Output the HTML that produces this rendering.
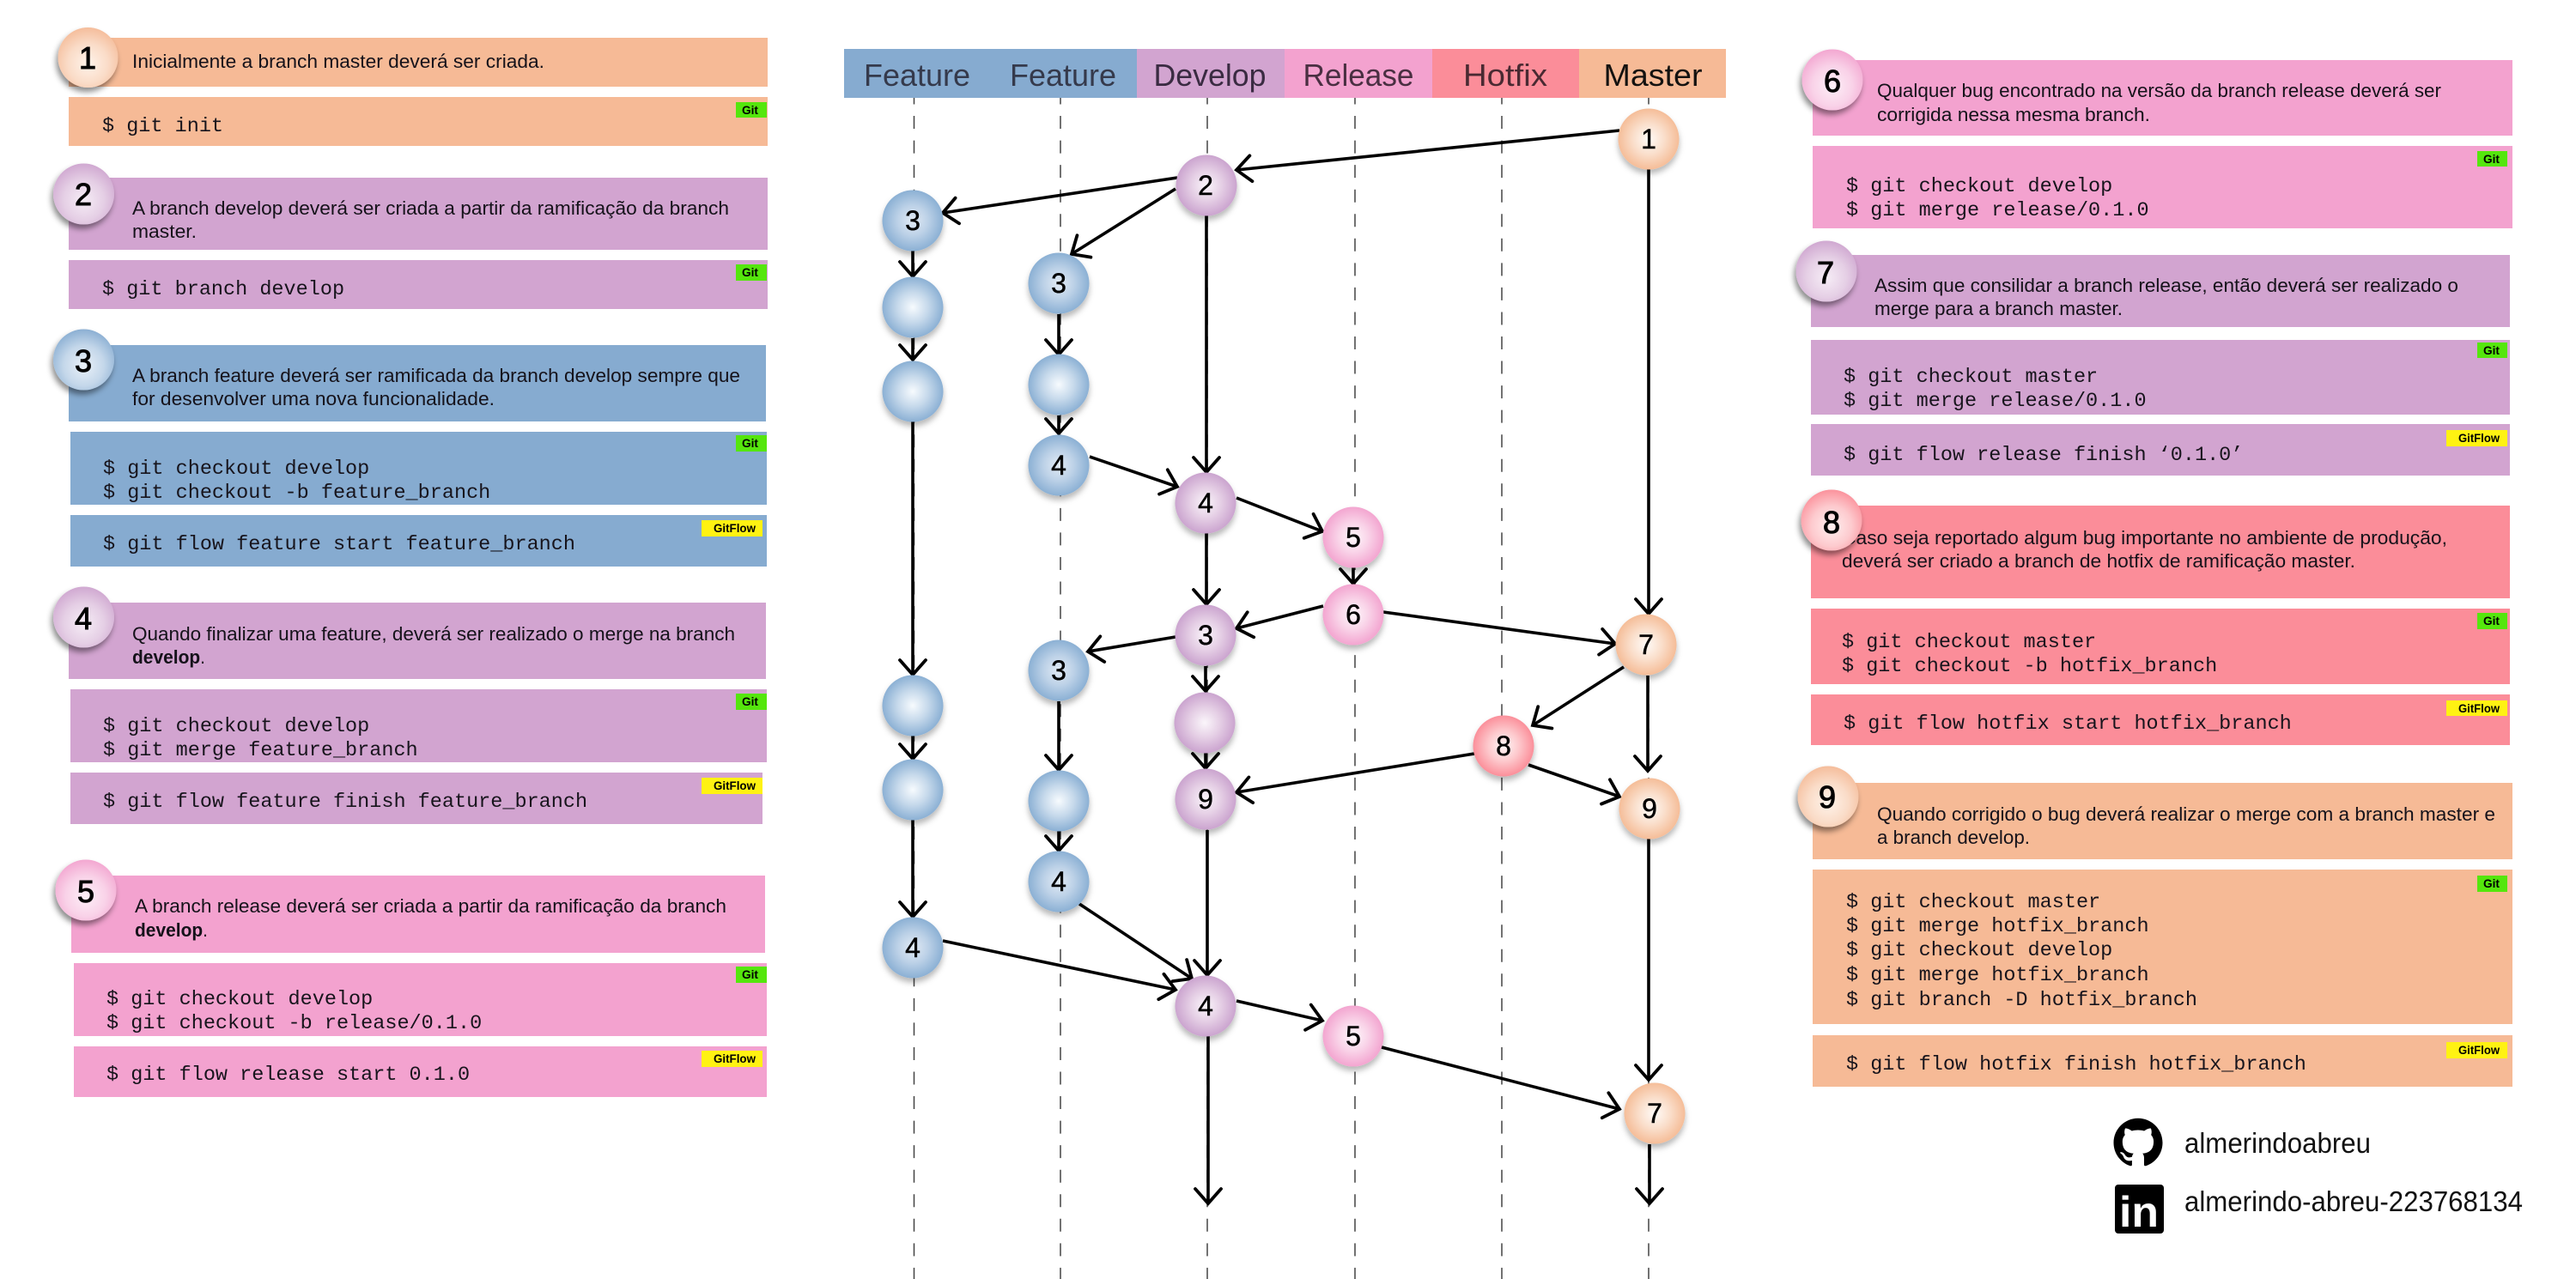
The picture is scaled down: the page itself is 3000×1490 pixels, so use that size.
<!DOCTYPE html>
<html lang="pt">
<head>
<meta charset="utf-8">
<title>Git Flow</title>
<style>
html,body{margin:0;padding:0;background:#fff;width:3000px;height:1490px;overflow:hidden}
svg{display:block}
.t{font:22px "Liberation Sans",sans-serif;fill:#15121a}
.c{font:23.5px "Liberation Mono",monospace;fill:#17141c}
.b{font:14px "Liberation Sans",sans-serif;fill:#000;font-weight:bold}
.h{font:36px "Liberation Sans",sans-serif;text-anchor:middle}
.n{font:32px "Liberation Sans",sans-serif;fill:#000;stroke:#000;stroke-width:.5;text-anchor:middle}
.s{font:36px "Liberation Sans",sans-serif;fill:#000;stroke:#000;stroke-width:1;text-anchor:middle}
.l,.k{stroke:#000;stroke-width:3.6;fill:none;marker-end:url(#a)}
.d{stroke:#444;stroke-width:1.5;stroke-dasharray:15 13.55;fill:none}
.so{font:33px "Liberation Sans",sans-serif;fill:#111}
.cir{filter:url(#sh)}
.stp{filter:url(#sh2)}
.pe{fill:#f6ba96}.pu{fill:#d2a4d0}.bl{fill:#86abd0}.pk{fill:#f3a2cf}.re{fill:#fb8d99}
.gi{fill:#55e60d}.gf{fill:#fff212}
</style>
</head>
<body>
<svg xmlns="http://www.w3.org/2000/svg" width="3000" height="1490" viewBox="0 0 3000 1490">
<defs>
<marker id="a" markerUnits="userSpaceOnUse" markerWidth="40" markerHeight="40" refX="22" refY="20" orient="auto" overflow="visible">
<path d="M5,5 L22,20 L5,35" fill="none" stroke="#000" stroke-width="3.8" stroke-linecap="round" stroke-linejoin="miter"/>
</marker>
<filter id="sh" x="-30%" y="-30%" width="160%" height="170%"><feDropShadow dx="0" dy="5" stdDeviation="3.5" flood-color="#000" flood-opacity=".28"/></filter>
<filter id="sh2" x="-30%" y="-30%" width="160%" height="170%"><feDropShadow dx="-2" dy="5" stdDeviation="3.5" flood-color="#000" flood-opacity=".45"/></filter>
<radialGradient id="gbl"><stop offset="0" stop-color="#f7fbfe"/><stop offset=".5" stop-color="#c6d9eb"/><stop offset="1" stop-color="#8bb0d4"/></radialGradient>
<radialGradient id="gbn"><stop offset="0" stop-color="#e2ebf5"/><stop offset=".5" stop-color="#bcd1e7"/><stop offset="1" stop-color="#8bb0d4"/></radialGradient>
<radialGradient id="gpu"><stop offset="0" stop-color="#fbf6fb"/><stop offset=".5" stop-color="#e5cfe5"/><stop offset="1" stop-color="#cba4cf"/></radialGradient>
<radialGradient id="gpk"><stop offset="0" stop-color="#fff9fc"/><stop offset=".5" stop-color="#f9d3e8"/><stop offset="1" stop-color="#f3a5d0"/></radialGradient>
<radialGradient id="gre"><stop offset="0" stop-color="#fff7f7"/><stop offset=".5" stop-color="#fdc9cd"/><stop offset="1" stop-color="#fb8f9a"/></radialGradient>
<radialGradient id="gpe"><stop offset="0" stop-color="#fffbf8"/><stop offset=".5" stop-color="#fadfcc"/><stop offset="1" stop-color="#f5bd98"/></radialGradient>
<radialGradient id="sbl" cx=".5" cy=".6" r=".6"><stop offset="0" stop-color="#eaf1f8"/><stop offset=".55" stop-color="#c4d7ea"/><stop offset="1" stop-color="#8bafd3"/></radialGradient>
<radialGradient id="spu" cx=".5" cy=".6" r=".6"><stop offset="0" stop-color="#f6edf6"/><stop offset=".55" stop-color="#e5cfe5"/><stop offset="1" stop-color="#d0a8d1"/></radialGradient>
<radialGradient id="spk" cx=".5" cy=".6" r=".6"><stop offset="0" stop-color="#fdeff7"/><stop offset=".55" stop-color="#f9d2e8"/><stop offset="1" stop-color="#f3a7d1"/></radialGradient>
<radialGradient id="sre" cx=".5" cy=".6" r=".6"><stop offset="0" stop-color="#ffefef"/><stop offset=".55" stop-color="#fdcace"/><stop offset="1" stop-color="#fb929c"/></radialGradient>
<radialGradient id="spe" cx=".5" cy=".6" r=".6"><stop offset="0" stop-color="#fff3ea"/><stop offset=".55" stop-color="#fadcc8"/><stop offset="1" stop-color="#f5bd9b"/></radialGradient>
</defs>

<!-- LEFT COLUMN -->
<rect class="pe" x="80" y="44" width="814" height="57"/>
<rect class="pe" x="80" y="113" width="814" height="57"/>
<rect class="gi" x="857" y="119" width="36" height="18"/><text class="b" x="864" y="133" textLength="19" lengthAdjust="spacingAndGlyphs">Git</text>
<text class="t" x="154" y="79" textLength="480" lengthAdjust="spacingAndGlyphs">Inicialmente a branch master deverá ser criada.</text>
<text class="c" x="119" y="153">$ git init</text>
<circle class="stp" cx="102.5" cy="67" r="35" fill="url(#spe)"/><text class="s" x="102" y="80">1</text>

<rect class="pu" x="80" y="207" width="814" height="84"/>
<rect class="pu" x="80" y="303" width="814" height="57"/>
<rect class="gi" x="857" y="308" width="36" height="19"/><text class="b" x="864" y="322" textLength="19" lengthAdjust="spacingAndGlyphs">Git</text>
<text class="t" x="154" y="250" textLength="695" lengthAdjust="spacingAndGlyphs">A branch develop deverá ser criada a partir da ramificação da branch</text>
<text class="t" x="154" y="277" textLength="75" lengthAdjust="spacingAndGlyphs">master.</text>
<text class="c" x="119" y="343">$ git branch develop</text>
<circle class="stp" cx="97.5" cy="226" r="35.5" fill="url(#spu)"/><text class="s" x="97" y="239">2</text>

<rect class="bl" x="80" y="402" width="812" height="89"/>
<rect class="bl" x="82" y="503" width="811" height="85"/>
<rect class="bl" x="82" y="600" width="811" height="60"/>
<rect class="gi" x="857" y="507" width="36" height="19"/><text class="b" x="864" y="521" textLength="19" lengthAdjust="spacingAndGlyphs">Git</text>
<rect class="gf" x="817" y="606" width="71" height="19"/><text class="b" x="831" y="620" textLength="49" lengthAdjust="spacingAndGlyphs">GitFlow</text>
<text class="t" x="154" y="445" textLength="708" lengthAdjust="spacingAndGlyphs">A branch feature deverá ser ramificada da branch develop sempre que</text>
<text class="t" x="154" y="472" textLength="422" lengthAdjust="spacingAndGlyphs">for desenvolver uma nova funcionalidade.</text>
<text class="c" x="120" y="552">$ git checkout develop</text>
<text class="c" x="120" y="580">$ git checkout -b feature_branch</text>
<text class="c" x="120" y="640">$ git flow feature start feature_branch</text>
<circle class="stp" cx="97.5" cy="419" r="35.5" fill="url(#sbl)"/><text class="s" x="97" y="433">3</text>

<rect class="pu" x="80" y="702" width="812" height="89"/>
<rect class="pu" x="82" y="803" width="811" height="85"/>
<rect class="pu" x="82" y="900" width="806" height="60"/>
<rect class="gi" x="857" y="808" width="36" height="19"/><text class="b" x="864" y="822" textLength="19" lengthAdjust="spacingAndGlyphs">Git</text>
<rect class="gf" x="817" y="906" width="71" height="19"/><text class="b" x="831" y="920" textLength="49" lengthAdjust="spacingAndGlyphs">GitFlow</text>
<text class="t" x="154" y="746" textLength="702" lengthAdjust="spacingAndGlyphs">Quando finalizar uma feature, deverá ser realizado o merge na branch</text>
<text class="t" x="154" y="773" textLength="85" lengthAdjust="spacingAndGlyphs"><tspan font-weight="bold">develop</tspan>.</text>
<text class="c" x="120" y="852">$ git checkout develop</text>
<text class="c" x="120" y="880">$ git merge feature_branch</text>
<text class="c" x="120" y="940">$ git flow feature finish feature_branch</text>
<circle class="stp" cx="97.5" cy="719" r="35.5" fill="url(#spu)"/><text class="s" x="97" y="733">4</text>

<rect class="pk" x="83" y="1020" width="808" height="90"/>
<rect class="pk" x="86" y="1122" width="807" height="85"/>
<rect class="pk" x="86" y="1219" width="807" height="59"/>
<rect class="gi" x="857" y="1126" width="36" height="19"/><text class="b" x="864" y="1140" textLength="19" lengthAdjust="spacingAndGlyphs">Git</text>
<rect class="gf" x="817" y="1224" width="71" height="19"/><text class="b" x="831" y="1238" textLength="49" lengthAdjust="spacingAndGlyphs">GitFlow</text>
<text class="t" x="157" y="1063" textLength="689" lengthAdjust="spacingAndGlyphs">A branch release deverá ser criada a partir da ramificação da branch</text>
<text class="t" x="157" y="1091" textLength="85" lengthAdjust="spacingAndGlyphs"><tspan font-weight="bold">develop</tspan>.</text>
<text class="c" x="124" y="1170">$ git checkout develop</text>
<text class="c" x="124" y="1198">$ git checkout -b release/0.1.0</text>
<text class="c" x="124" y="1258">$ git flow release start 0.1.0</text>
<circle class="stp" cx="100" cy="1037" r="35.5" fill="url(#spk)"/><text class="s" x="100" y="1051">5</text>

<!-- CENTER DIAGRAM -->
<g>
<line class="d" x1="1064.5" y1="106.5" x2="1064.5" y2="1490"/>
<line class="d" x1="1235" y1="106.5" x2="1235" y2="1490"/>
<line class="d" x1="1406" y1="106.5" x2="1406" y2="1490"/>
<line class="d" x1="1578" y1="106.5" x2="1578" y2="1490"/>
<line class="d" x1="1749" y1="106.5" x2="1749" y2="1490"/>
<line class="d" x1="1920" y1="106.5" x2="1920" y2="1490"/>
</g>
<rect class="bl" x="983" y="57" width="341" height="57"/>
<rect class="pu" x="1324" y="57" width="172" height="57"/>
<rect class="pk" x="1496" y="57" width="172" height="57"/>
<rect class="re" x="1668" y="57" width="171" height="57"/>
<rect class="pe" x="1839" y="57" width="171" height="57"/>
<text class="h" x="1068" y="100" fill="#353a4c" textLength="124" lengthAdjust="spacingAndGlyphs">Feature</text>
<text class="h" x="1238" y="100" fill="#353a4c" textLength="124" lengthAdjust="spacingAndGlyphs">Feature</text>
<text class="h" x="1409" y="100" fill="#3a2b42" textLength="131" lengthAdjust="spacingAndGlyphs">Develop</text>
<text class="h" x="1582" y="100" fill="#4a2f42" textLength="129" lengthAdjust="spacingAndGlyphs">Release</text>
<text class="h" x="1753" y="100" fill="#4a2a32" textLength="98" lengthAdjust="spacingAndGlyphs">Hotfix</text>
<text class="h" x="1925" y="100" fill="#141210" textLength="115" lengthAdjust="spacingAndGlyphs">Master</text>

<g>
<line class="k" x1="1886" y1="152" x2="1440" y2="198"/>
<line class="k" x1="1371" y1="207" x2="1098" y2="248"/>
<line class="l" x1="1369" y1="220" x2="1248" y2="296"/>
<line class="l" x1="1405" y1="251" x2="1405" y2="550"/>
<line class="l" x1="1920" y1="197" x2="1920" y2="715"/>
<line class="l" x1="1063" y1="292" x2="1063" y2="322"/>
<line class="l" x1="1063" y1="394" x2="1063" y2="419"/>
<line class="l" x1="1063" y1="491" x2="1063" y2="786"/>
<line class="l" x1="1233" y1="366" x2="1233" y2="413"/>
<line class="l" x1="1233" y1="484" x2="1233" y2="505"/>
<line class="l" x1="1269" y1="532" x2="1371" y2="567"/>
<line class="l" x1="1440" y1="580" x2="1540" y2="619"/>
<line class="l" x1="1576" y1="661" x2="1576" y2="680"/>
<line class="l" x1="1405" y1="621" x2="1405" y2="704"/>
<line class="l" x1="1541" y1="706" x2="1440" y2="732"/>
<line class="k" x1="1611" y1="713" x2="1881" y2="750"/>
<line class="k" x1="1369" y1="742" x2="1267" y2="759"/>
<line class="l" x1="1404" y1="776" x2="1404" y2="805"/>
<line class="l" x1="1404" y1="877" x2="1404" y2="895"/>
<line class="l" x1="1891" y1="777" x2="1785" y2="845"/>
<line class="l" x1="1919" y1="787" x2="1919" y2="898"/>
<line class="k" x1="1717" y1="878" x2="1440" y2="923"/>
<line class="l" x1="1780" y1="891" x2="1886" y2="928"/>
<line class="l" x1="1063" y1="857" x2="1063" y2="884"/>
<line class="l" x1="1233" y1="817" x2="1233" y2="897"/>
<line class="l" x1="1233" y1="968" x2="1233" y2="991"/>
<line class="l" x1="1063" y1="955" x2="1063" y2="1068"/>
<line class="l" x1="1257" y1="1053" x2="1388" y2="1140"/>
<line class="k" x1="1098" y1="1096" x2="1369" y2="1153"/>
<line class="l" x1="1406" y1="967" x2="1406" y2="1136"/>
<line class="k" x1="1440" y1="1166" x2="1540" y2="1189"/>
<line class="k" x1="1609" y1="1220" x2="1886" y2="1292"/>
<line class="l" x1="1407" y1="1207" x2="1407" y2="1402"/>
<line class="l" x1="1920" y1="977" x2="1920" y2="1258"/>
<line class="l" x1="1921" y1="1333" x2="1921" y2="1402"/>
</g>

<g class="nodes">
<circle class="cir" cx="1920" cy="162" r="35.5" fill="url(#gpe)"/><text class="n" x="1920" y="173">1</text>
<circle class="cir" cx="1405" cy="216" r="35.5" fill="url(#gpu)"/><text class="n" x="1404" y="227">2</text>
<circle class="cir" cx="1063" cy="257" r="35.5" fill="url(#gbn)"/><text class="n" x="1063" y="268">3</text>
<circle class="cir" cx="1063" cy="358" r="35.5" fill="url(#gbl)"/>
<circle class="cir" cx="1063" cy="456" r="35.5" fill="url(#gbl)"/>
<circle class="cir" cx="1233" cy="330" r="35.5" fill="url(#gbn)"/><text class="n" x="1233" y="341">3</text>
<circle class="cir" cx="1233" cy="448" r="35.5" fill="url(#gbl)"/>
<circle class="cir" cx="1233" cy="542" r="35.5" fill="url(#gbn)"/><text class="n" x="1233" y="553">4</text>
<circle class="cir" cx="1404" cy="586" r="35.5" fill="url(#gpu)"/><text class="n" x="1404" y="597">4</text>
<circle class="cir" cx="1576" cy="626" r="35.5" fill="url(#gpk)"/><text class="n" x="1576" y="637">5</text>
<circle class="cir" cx="1576" cy="716" r="35.5" fill="url(#gpk)"/><text class="n" x="1576" y="727">6</text>
<circle class="cir" cx="1404" cy="740" r="35.5" fill="url(#gpu)"/><text class="n" x="1404" y="751">3</text>
<circle class="cir" cx="1233" cy="781" r="35.5" fill="url(#gbn)"/><text class="n" x="1233" y="792">3</text>
<circle class="cir" cx="1403" cy="842" r="35.5" fill="url(#gpu)"/>
<circle class="cir" cx="1917" cy="751" r="35.5" fill="url(#gpe)"/><text class="n" x="1917" y="762">7</text>
<circle class="cir" cx="1063" cy="822" r="35.5" fill="url(#gbl)"/>
<circle class="cir" cx="1063" cy="920" r="35.5" fill="url(#gbl)"/>
<circle class="cir" cx="1233" cy="933" r="35.5" fill="url(#gbl)"/>
<circle class="cir" cx="1404" cy="931" r="35.5" fill="url(#gpu)"/><text class="n" x="1404" y="942">9</text>
<circle class="cir" cx="1751" cy="869" r="35.5" fill="url(#gre)"/><text class="n" x="1751" y="880">8</text>
<circle class="cir" cx="1921" cy="942" r="35.5" fill="url(#gpe)"/><text class="n" x="1921" y="953">9</text>
<circle class="cir" cx="1233" cy="1027" r="35.5" fill="url(#gbn)"/><text class="n" x="1233" y="1038">4</text>
<circle class="cir" cx="1063" cy="1104" r="35.5" fill="url(#gbn)"/><text class="n" x="1063" y="1115">4</text>
<circle class="cir" cx="1404" cy="1172" r="35.5" fill="url(#gpu)"/><text class="n" x="1404" y="1183">4</text>
<circle class="cir" cx="1576" cy="1207" r="35.5" fill="url(#gpk)"/><text class="n" x="1576" y="1218">5</text>
<circle class="cir" cx="1927" cy="1297" r="35.5" fill="url(#gpe)"/><text class="n" x="1927" y="1308">7</text>
</g>

<!-- RIGHT COLUMN -->
<rect class="pk" x="2111" y="70" width="815" height="88"/>
<rect class="pk" x="2111" y="170" width="815" height="96"/>
<rect class="gi" x="2885" y="176" width="35" height="18"/><text class="b" x="2892" y="190" textLength="19" lengthAdjust="spacingAndGlyphs">Git</text>
<text class="t" x="2186" y="113" textLength="657" lengthAdjust="spacingAndGlyphs">Qualquer bug encontrado na versão da branch release deverá ser</text>
<text class="t" x="2186" y="141" textLength="318" lengthAdjust="spacingAndGlyphs">corrigida nessa mesma branch.</text>
<text class="c" x="2150" y="223">$ git checkout develop</text>
<text class="c" x="2150" y="251">$ git merge release/0.1.0</text>
<circle class="stp" cx="2134" cy="93" r="35.5" fill="url(#spk)"/><text class="s" x="2134" y="107">6</text>

<rect class="pu" x="2109" y="297" width="814" height="84"/>
<rect class="pu" x="2109" y="396" width="814" height="87"/>
<rect class="pu" x="2109" y="494" width="814" height="60"/>
<rect class="gi" x="2885" y="399" width="35" height="18"/><text class="b" x="2892" y="413" textLength="19" lengthAdjust="spacingAndGlyphs">Git</text>
<rect class="gf" x="2849" y="501" width="71" height="19"/><text class="b" x="2863" y="515" textLength="48" lengthAdjust="spacingAndGlyphs">GitFlow</text>
<text class="t" x="2183" y="340" textLength="680" lengthAdjust="spacingAndGlyphs">Assim que consilidar a branch release, então deverá ser realizado o</text>
<text class="t" x="2183" y="367" textLength="289" lengthAdjust="spacingAndGlyphs">merge para a branch master.</text>
<text class="c" x="2147" y="445">$ git checkout master</text>
<text class="c" x="2147" y="473">$ git merge release/0.1.0</text>
<text class="c" x="2147" y="536">$ git flow release finish ‘0.1.0’</text>
<circle class="stp" cx="2127" cy="316" r="35.5" fill="url(#spu)"/><text class="s" x="2126" y="330">7</text>

<rect class="re" x="2109" y="589" width="814" height="108"/>
<rect class="re" x="2109" y="709" width="814" height="88"/>
<rect class="re" x="2109" y="809" width="814" height="59"/>
<rect class="gi" x="2885" y="714" width="35" height="19"/><text class="b" x="2892" y="728" textLength="19" lengthAdjust="spacingAndGlyphs">Git</text>
<rect class="gf" x="2849" y="816" width="71" height="18"/><text class="b" x="2863" y="830" textLength="48" lengthAdjust="spacingAndGlyphs">GitFlow</text>
<text class="t" x="2145" y="634" textLength="705" lengthAdjust="spacingAndGlyphs">Caso seja reportado algum bug importante no ambiente de produção,</text>
<text class="t" x="2145" y="661" textLength="598" lengthAdjust="spacingAndGlyphs">deverá ser criado a branch de hotfix de ramificação master.</text>
<text class="c" x="2145" y="754">$ git checkout master</text>
<text class="c" x="2145" y="782">$ git checkout -b hotfix_branch</text>
<text class="c" x="2147" y="849">$ git flow hotfix start hotfix_branch</text>
<circle class="stp" cx="2133" cy="606" r="35.5" fill="url(#sre)"/><text class="s" x="2133" y="621">8</text>

<rect class="pe" x="2111" y="912" width="815" height="89"/>
<rect class="pe" x="2111" y="1013" width="815" height="180"/>
<rect class="pe" x="2111" y="1206" width="815" height="60"/>
<rect class="gi" x="2885" y="1020" width="35" height="19"/><text class="b" x="2892" y="1034" textLength="19" lengthAdjust="spacingAndGlyphs">Git</text>
<rect class="gf" x="2849" y="1214" width="71" height="19"/><text class="b" x="2863" y="1228" textLength="48" lengthAdjust="spacingAndGlyphs">GitFlow</text>
<text class="t" x="2186" y="956" textLength="720" lengthAdjust="spacingAndGlyphs">Quando corrigido o bug deverá realizar o merge com a branch master e</text>
<text class="t" x="2186" y="983" textLength="178" lengthAdjust="spacingAndGlyphs">a branch develop.</text>
<text class="c" x="2150" y="1057">$ git checkout master</text>
<text class="c" x="2150" y="1085">$ git merge hotfix_branch</text>
<text class="c" x="2150" y="1113">$ git checkout develop</text>
<text class="c" x="2150" y="1142">$ git merge hotfix_branch</text>
<text class="c" x="2150" y="1171">$ git branch -D hotfix_branch</text>
<text class="c" x="2150" y="1246">$ git flow hotfix finish hotfix_branch</text>
<circle class="stp" cx="2129" cy="928" r="35.5" fill="url(#spe)"/><text class="s" x="2128" y="941">9</text>

<!-- SOCIAL -->
<g transform="translate(2461.5 1302) scale(2.375)">
<path fill="#000" d="M12 .297c-6.63 0-12 5.373-12 12 0 5.303 3.438 9.8 8.205 11.385.6.113.82-.258.82-.577 0-.285-.01-1.04-.015-2.04-3.338.724-4.042-1.61-4.042-1.61C4.422 18.07 3.633 17.7 3.633 17.7c-1.087-.744.084-.729.084-.729 1.205.084 1.838 1.236 1.838 1.236 1.07 1.835 2.809 1.305 3.495.998.108-.776.417-1.305.76-1.605-2.665-.3-5.466-1.332-5.466-5.93 0-1.31.465-2.38 1.235-3.22-.135-.303-.54-1.523.105-3.176 0 0 1.005-.322 3.3 1.23.96-.267 1.98-.399 3-.405 1.02.006 2.04.138 3 .405 2.28-1.552 3.285-1.23 3.285-1.23.645 1.653.24 2.873.12 3.176.765.84 1.23 1.91 1.23 3.22 0 4.61-2.805 5.625-5.475 5.92.42.36.81 1.096.81 2.22 0 1.606-.015 2.896-.015 3.286 0 .315.21.69.825.57C20.565 22.092 24 17.592 24 12.297c0-6.627-5.373-12-12-12"/>
</g>
<rect x="2463" y="1380" width="57" height="57" rx="4" fill="#000"/>
<text x="2468" y="1429" font-family="Liberation Sans, sans-serif" font-weight="bold" font-size="50" fill="#fff" textLength="46" lengthAdjust="spacingAndGlyphs">in</text>
<text class="so" x="2544" y="1343" textLength="217" lengthAdjust="spacingAndGlyphs">almerindoabreu</text>
<text class="so" x="2544" y="1411" textLength="394" lengthAdjust="spacingAndGlyphs">almerindo-abreu-223768134</text>
</svg>
</body>
</html>
